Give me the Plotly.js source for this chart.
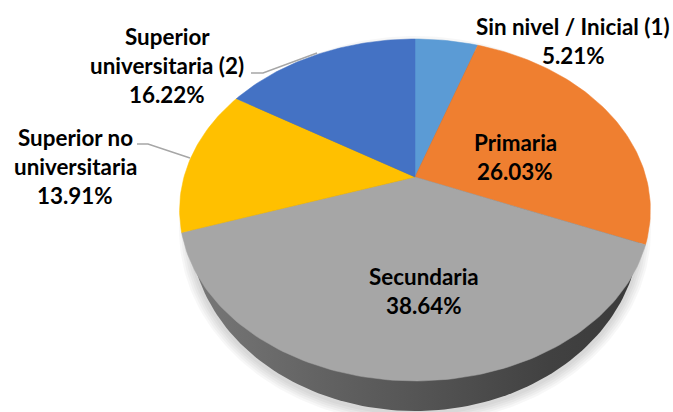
<!DOCTYPE html>
<html>
<head>
<meta charset="utf-8">
<script src="https://cdn.plot.ly/plotly-3.0.1.min.js"></script>
<style>html,body{margin:0;padding:0;background:#fff}#chart{width:673px;height:412px}</style>
</head>
<body>
<div id="chart"></div>
<script>
// Data
const categories = ["Sin nivel / Inicial (1)", "Primaria", "Secundaria", "Superior no universitaria", "Superior universitaria (2)"];
const values = [5.21, 26.03, 38.64, 13.91, 16.22];
const valueLabels = ["5.21%", "26.03%", "38.64%", "13.91%", "16.22%"];
const colors = ["#5b9bd5", "#ef7f30", "#a6a6a6", "#ffc000", "#4472c4"];
const labelLines = [
  ["Sin nivel / Inicial (1)"],
  ["Primaria"],
  ["Secundaria"],
  ["Superior no", "universitaria"],
  ["Superior", "universitaria (2)"]
];
const labelAnchors = [[573, 26], [515, 142], [424, 276], [75, 137], [167, 36]];
const leaderX = [[251, 263, 317], [137, 148, 190]];
const leaderY = [[73, 73, 53], [144, 144, 158]];

// Projection of the tilted disc (perspective), in pixel-like axis units
const cx = 415, cy = 177, Rx = 231, Ry = 164.6, p = 0.193;
function project(theta) {
  const u = Math.sin(theta), v = Math.cos(theta), w = 1 + p * v;
  return [cx + Rx * u / w, cy - Ry * v / w];
}
const total = values.reduce((a, b) => a + b, 0);

function ellipse(ex, ey, a, b) {
  const xs = [], ys = [];
  for (let i = 0; i <= 240; i++) {
    const t = i / 240 * 2 * Math.PI;
    xs.push(ex + a * Math.cos(t));
    ys.push(ey + b * Math.sin(t));
  }
  return {x: xs, y: ys};
}

const traces = [];
// soft shadow under the disc
for (let i = 5; i >= 1; i--) {
  const e = ellipse(415, 230, 225 + i * 2.2, 183 + i * 2.2);
  traces.push({type: "scatter", mode: "lines", x: e.x, y: e.y, fill: "toself",
    fillcolor: "rgba(0,0,0,0.03)", line: {width: 0}, hoverinfo: "skip", showlegend: false});
}
// side wall
const wall = ellipse(415, 228, 225, 183);
traces.push({type: "scatter", mode: "lines", x: wall.x, y: wall.y, fill: "toself",
  fillgradient: {type: "horizontal", colorscale: [[0, "#787878"], [0.3, "#626262"], [0.55, "#525252"], [0.8, "#414141"], [1, "#3a3a3a"]]},
  line: {width: 0}, hoverinfo: "skip", showlegend: false});
// slices
let cum = 0;
values.forEach((val, i) => {
  const a0 = cum / total * 2 * Math.PI;
  cum += val;
  const a1 = cum / total * 2 * Math.PI;
  const xs = [cx], ys = [cy];
  const n = Math.max(8, Math.round(val * 3));
  for (let k = 0; k <= n; k++) {
    const pt = project(a0 + (a1 - a0) * k / n);
    xs.push(pt[0]); ys.push(pt[1]);
  }
  xs.push(cx); ys.push(cy);
  traces.push({type: "scatter", mode: "lines", name: categories[i], x: xs, y: ys, fill: "toself",
    fillcolor: colors[i], line: {color: colors[i], width: 0.5}, hoverinfo: "name", showlegend: false});
});
// leader lines
leaderX.forEach((lx, i) => {
  traces.push({type: "scatter", mode: "lines", x: lx, y: leaderY[i],
    line: {color: "#a6a6a6", width: 1.5}, hoverinfo: "skip", showlegend: false});
});

// labels
const lineGap = 29.3;
const annotations = [];
labelLines.forEach((lines, i) => {
  const all = lines.concat([valueLabels[i]]);
  all.forEach((t, j) => {
    annotations.push({x: labelAnchors[i][0], y: labelAnchors[i][1] + j * lineGap, xref: "x", yref: "y",
      text: "<b>" + t + "</b>", showarrow: false, xanchor: "center", yanchor: "middle",
      font: {family: "Lato, sans-serif", size: 22.4, color: "#000000"}});
  });
});

const layout = {
  width: 673, height: 412,
  margin: {l: 0, r: 0, t: 0, b: 0},
  paper_bgcolor: "#fff", plot_bgcolor: "#fff",
  showlegend: false,
  xaxis: {range: [0, 673], visible: false, fixedrange: true},
  yaxis: {range: [412, 0], visible: false, fixedrange: true},
  annotations: annotations
};
Plotly.newPlot("chart", traces, layout, {displayModeBar: false, staticPlot: true});
</script>
</body>
</html>
